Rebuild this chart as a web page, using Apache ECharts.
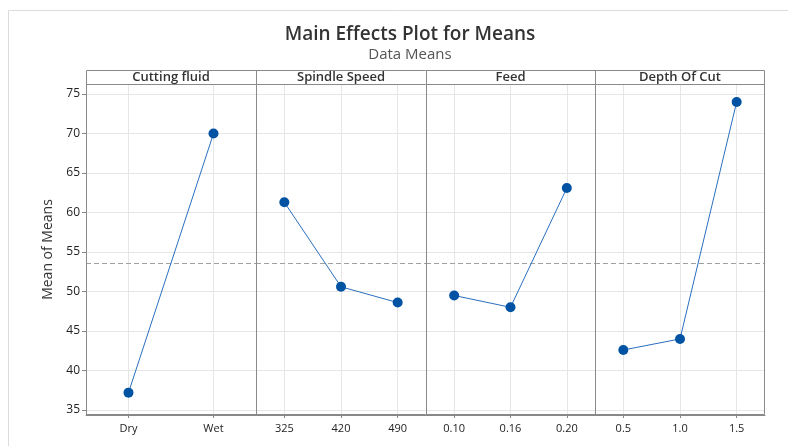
<!DOCTYPE html>
<html><head><meta charset="utf-8">
<script src="https://cdn.jsdelivr.net/npm/echarts@6/dist/echarts.min.js"></script>
<style>html,body{margin:0;padding:0;background:#fff}#c{width:788px;height:446px}</style>
</head><body><div id="c"></div>
<script>
const panelTitles = ['Cutting fluid', 'Spindle Speed', 'Feed', 'Depth Of Cut'];
const cuttingFluidCats = ['Dry', 'Wet'];
const cuttingFluidVals = [37.2, 70.0];
const spindleCats = ['325', '420', '490'];
const spindleVals = [61.3, 50.6, 48.6];
const feedCats = ['0.10', '0.16', '0.20'];
const feedVals = [49.5, 48.0, 63.1];
const depthCats = ['0.5', '1.0', '1.5'];
const depthVals = [42.6, 44.0, 74.0];
const overallMean = 53.6;
const yMin = 34.37, yMax = 76.27;

(function () {
const cats = [cuttingFluidCats, spindleCats, feedCats, depthCats];
const vals = [cuttingFluidVals, spindleVals, feedVals, depthVals];
const lefts = [86, 256, 426, 595];
const widths = [170, 170, 169, 170];
const gTop = 84, gBottom = 31;
const font = '"Open Sans", "Noto Sans", sans-serif';

const grids = [], xAxes = [], yAxes = [], series = [], graphics = [];
for (let i = 0; i < 4; i++) {
  grids.push({left: lefts[i], width: widths[i], top: gTop, bottom: gBottom, containLabel: false});
  xAxes.push({
    type: 'category', gridIndex: i, data: cats[i], boundaryGap: true,
    axisLine: {show: true, lineStyle: {color: '#888', width: 1}},
    axisTick: {show: true, alignWithLabel: true, length: 3, lineStyle: {color: '#888'}},
    axisLabel: {color: '#222', fontSize: 11, fontFamily: font, margin: 8},
    splitLine: {show: true, alignWithLabel: true, lineStyle: {color: '#e6e6e6', width: 1}}
  });
  yAxes.push({
    type: 'value', gridIndex: i, min: yMin, max: yMax, splitNumber: 8,
    axisLine: {show: i === 0, lineStyle: {color: '#888'}},
    axisTick: {show: i === 0, length: 4, lineStyle: {color: '#888'}},
    axisLabel: {show: i === 0, color: '#222', fontSize: 12, fontFamily: font, margin: 6,
      showMinLabel: false, showMaxLabel: false},
    splitLine: {show: true, lineStyle: {color: '#e6e6e6', width: 1}},
    name: i === 0 ? 'Mean of Means' : '', nameLocation: 'middle', nameGap: 31,
    nameTextStyle: {color: '#333', fontSize: 14, fontFamily: font}
  });
  series.push({
    type: 'line', xAxisIndex: i, yAxisIndex: i, data: vals[i],
    symbol: 'circle', symbolSize: 10,
    itemStyle: {color: '#0052a3'},
    lineStyle: {color: '#2a6fc0', width: 1},
    markLine: {silent: true, symbol: 'none', label: {show: false},
      lineStyle: {color: '#a0a0a0', type: [5, 3], width: 1},
      data: [{yAxis: overallMean}]},
    z: 5
  });
  graphics.push({type: 'text', x: lefts[i] + widths[i] / 2, y: 71,
    style: {text: panelTitles[i], fill: '#333', font: '600 13px ' + font, textAlign: 'center', textVerticalAlign: 'top'}, z: 10});
}
graphics.push({type: 'rect', shape: {x: 8.5, y: 10.5, width: 800, height: 460}, style: {fill: 'none', stroke: '#dcdcdc', lineWidth: 1}, z: 0});
graphics.push({type: 'rect', shape: {x: 86.5, y: 70.5, width: 678, height: 344}, style: {fill: 'none', stroke: '#8a8a8a', lineWidth: 1}, z: 10});
graphics.push({type: 'line', shape: {x1: 86.5, y1: 84.5, x2: 764.5, y2: 84.5}, style: {stroke: '#8a8a8a', lineWidth: 1}, z: 10});
[256, 426, 595].forEach(x => graphics.push({type: 'line', shape: {x1: x + 0.5, y1: 70.5, x2: x + 0.5, y2: 414.5}, style: {stroke: '#8a8a8a', lineWidth: 1}, z: 10}));

const chart = echarts.init(document.getElementById('c'), null, {renderer: 'canvas'});
chart.setOption({
  animation: false,
  backgroundColor: '#fff',
  title: {text: 'Main Effects Plot for Means', subtext: 'Data Means', left: 405, top: 20, textAlign: 'center', itemGap: 3,
    textStyle: {color: '#333', fontSize: 19, fontWeight: 600, fontFamily: font},
    subtextStyle: {color: '#555', fontSize: 15, fontFamily: font}},
  grid: grids, xAxis: xAxes, yAxis: yAxes, series: series, graphic: graphics
});
})();
</script></body></html>
